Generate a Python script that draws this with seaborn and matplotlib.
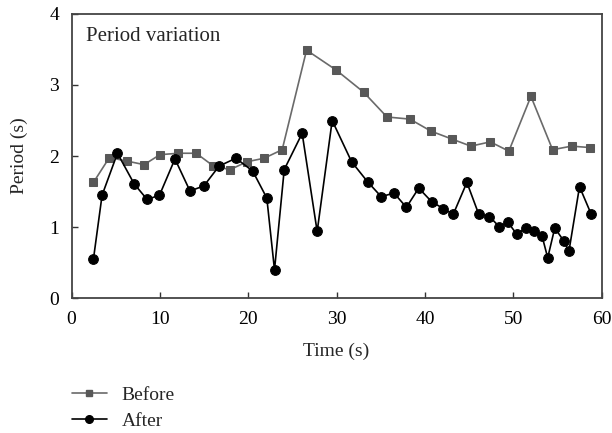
import matplotlib
matplotlib.use("Agg")
import matplotlib.pyplot as plt
import seaborn as sns
import pandas as pd
from matplotlib.lines import Line2D

before_t = [2.47, 4.28, 6.25, 8.21, 10.0, 12.1, 14.1, 16.06, 17.95, 19.84, 21.8, 23.84,
            26.6, 29.95, 33.05, 35.7, 38.3, 40.7, 43.05, 45.2, 47.4, 49.5, 52.0, 54.45, 56.6, 58.7]
before_y = [1.63, 1.98, 1.93, 1.88, 2.02, 2.04, 2.04, 1.86, 1.81, 1.92, 1.97, 2.09,
            3.49, 3.21, 2.90, 2.55, 2.52, 2.35, 2.24, 2.14, 2.20, 2.07, 2.84, 2.09, 2.14, 2.12]

after_t = [2.47, 3.45, 5.19, 7.08, 8.55, 9.95, 11.7, 13.4, 14.97, 16.7, 18.6, 20.5,
           22.1, 22.97, 24.07, 26.1, 27.8, 29.5, 31.7, 33.5, 35.05, 36.5, 37.9, 39.3, 40.75,
           42.1, 43.2, 44.75, 46.1, 47.3, 48.4, 49.4, 50.4, 51.4, 52.3, 53.25, 53.9, 54.7,
           55.7, 56.3, 57.5, 58.8]
after_y = [0.55, 1.45, 2.04, 1.61, 1.39, 1.45, 1.96, 1.51, 1.58, 1.86, 1.97, 1.79,
           1.41, 0.40, 1.81, 2.32, 0.94, 2.50, 1.92, 1.64, 1.43, 1.48, 1.28, 1.55, 1.36,
           1.26, 1.18, 1.63, 1.18, 1.15, 1.01, 1.07, 0.90, 0.99, 0.95, 0.88, 0.57, 0.99,
           0.81, 0.66, 1.57, 1.19]

x_ticks = [0, 10, 20, 30, 40, 50, 60]
y_ticks = [0, 1, 2, 3, 4]
series_names = ["Before", "After"]

sns.set_style("white")
plt.rcParams["font.family"] = ["Liberation Serif", "DejaVu Serif"]

df_b = pd.DataFrame({"t": before_t, "y": before_y})
df_a = pd.DataFrame({"t": after_t, "y": after_y})

fig = plt.figure(figsize=(6.12, 4.33), dpi=100)
ax = fig.add_axes([0.117, 0.311, 0.866, 0.657])

fs = 14
c_before_line = "#6a6a6a"
c_before_mark = "#585858"
sns.lineplot(data=df_b, x="t", y="y", ax=ax, sort=False, estimator=None,
             color=c_before_line, lw=1.2, marker="s", markersize=6.3,
             markerfacecolor=c_before_mark, markeredgecolor=c_before_mark)
sns.lineplot(data=df_a, x="t", y="y", ax=ax, sort=False, estimator=None,
             color="black", lw=1.2, marker="o", markersize=7,
             markerfacecolor="black", markeredgecolor="black")

ax.set_xlim(0, 60)
ax.set_ylim(0, 4)
ax.set_xticks(x_ticks)
ax.set_yticks(y_ticks)
ax.tick_params(direction="in", length=4, width=1, colors="#333333", labelsize=fs,
               labelcolor="black", bottom=True, left=True, top=False, right=False, pad=9)
for s in ax.spines.values():
    s.set_visible(True)
    s.set_color("#444444")
    s.set_linewidth(1.3)
ax.set_xlabel("Time (s)", fontsize=fs, labelpad=11)
ax.set_ylabel("Period (s)", fontsize=fs, labelpad=15)
ax.text(0.027, 0.955, "Period variation", transform=ax.transAxes, fontsize=15,
        va="top", ha="left")

handles = [
    Line2D([], [], color=c_before_line, lw=1.2, marker="s", markersize=5,
           markerfacecolor=c_before_mark, markeredgecolor=c_before_mark),
    Line2D([], [], color="black", lw=1.2, marker="o", markersize=5.5),
]
fig.legend(handles, series_names, loc="upper left", bbox_to_anchor=(0.095, 0.14),
           frameon=False, fontsize=fs, handlelength=1.8, handletextpad=0.75,
           labelspacing=0.45, borderpad=0.2)

fig.savefig("out.png", dpi=100)
